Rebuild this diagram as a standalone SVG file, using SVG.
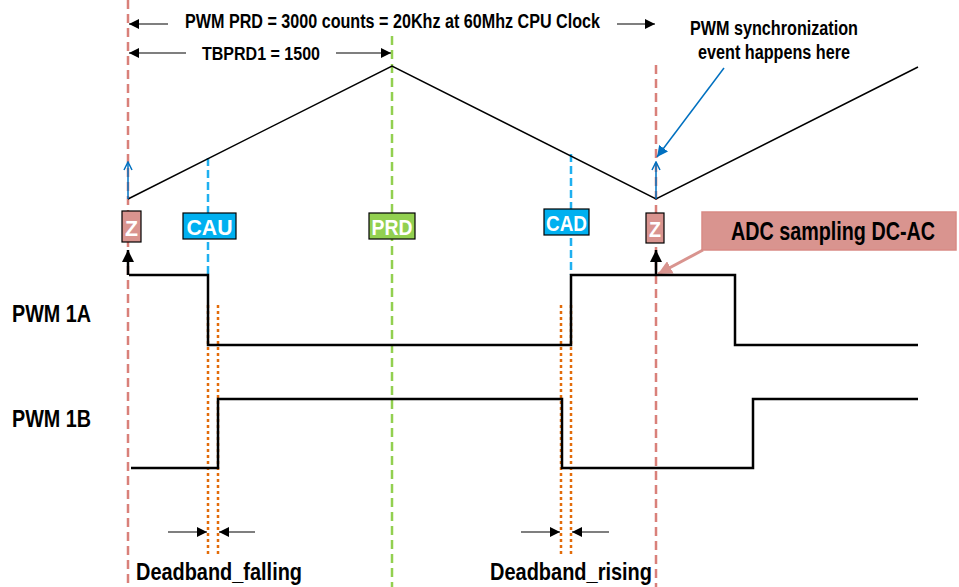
<svg xmlns="http://www.w3.org/2000/svg" width="959" height="587" viewBox="0 0 959 587">
<style>
text{font-family:"Liberation Sans",Arial,sans-serif;font-weight:bold;}
.lbl{fill:#000;}
.wt{fill:#fff;text-anchor:middle;}
.red{stroke:#d9807a;stroke-width:2.5;stroke-dasharray:9,5;fill:none;}
.grn{stroke:#92d050;stroke-width:2.5;stroke-dasharray:9,5;fill:none;}
.blu{stroke:#1fb0f0;stroke-width:2.5;stroke-dasharray:8,4;fill:none;}
.org{stroke:#e36c0a;stroke-width:2.5;stroke-dasharray:3,3;fill:none;}
.wave{stroke:#000;stroke-width:2.5;fill:none;}
.tri{stroke:#000;stroke-width:1.5;fill:none;}
.dim{stroke:#000;stroke-width:1.2;fill:none;}
</style>
<defs>
<marker id="ah" viewBox="0 0 10 10" refX="10" refY="5" markerWidth="10" markerHeight="10" markerUnits="userSpaceOnUse" orient="auto"><path d="M0,0 L10,5 L0,10 Z" fill="#000"/></marker>
<marker id="ahb" viewBox="0 0 10 10" refX="10" refY="5" markerWidth="12" markerHeight="12" markerUnits="userSpaceOnUse" orient="auto"><path d="M0,0 L10,5 L0,10 Z" fill="#000"/></marker>
<marker id="openb" viewBox="0 0 10 10" refX="9" refY="5" markerWidth="10" markerHeight="10" markerUnits="userSpaceOnUse" orient="auto"><path d="M1,1 L9,5 L1,9" fill="none" stroke="#0070c0" stroke-width="1.5"/></marker>
<marker id="fillb" viewBox="0 0 10 10" refX="10" refY="5" markerWidth="11" markerHeight="11" markerUnits="userSpaceOnUse" orient="auto"><path d="M0,0 L10,5 L0,10 Z" fill="#0070c0"/></marker>
<marker id="pink" viewBox="0 0 10 10" refX="10" refY="5" markerWidth="14" markerHeight="14" markerUnits="userSpaceOnUse" orient="auto"><path d="M0,0 L10,5 L0,10 Z" fill="#d9948f"/></marker>
</defs>

<g id="guides">
<line class="red" x1="128" y1="0" x2="128" y2="587"/>
<line class="red" x1="656" y1="65" x2="656" y2="587"/>
<line class="grn" x1="392" y1="36" x2="392" y2="587"/>
<line class="blu" x1="208" y1="158" x2="208" y2="275"/>
<line class="blu" x1="571" y1="154" x2="571" y2="275"/>
<line class="org" x1="208" y1="305" x2="208" y2="557"/>
<line class="org" x1="218" y1="305" x2="218" y2="557"/>
<line class="org" x1="561" y1="305" x2="561" y2="557"/>
<line class="org" x1="571" y1="305" x2="571" y2="557"/>
</g>

<g id="connectors">
<polyline class="tri" points="128,199 392,66 656,199 918,67"/>
<line x1="128" y1="199" x2="128" y2="162" stroke="#0070c0" stroke-width="1.5" marker-end="url(#openb)"/>
<line x1="656" y1="199" x2="656" y2="162" stroke="#0070c0" stroke-width="1.5" marker-end="url(#openb)"/>
<line x1="724" y1="68" x2="657" y2="157" stroke="#0070c0" stroke-width="1.5" marker-end="url(#fillb)"/>
<line x1="128" y1="275" x2="128" y2="250" stroke="#000" stroke-width="2.5" marker-end="url(#ahb)"/>
<line x1="656" y1="275" x2="656" y2="250" stroke="#000" stroke-width="2.5" marker-end="url(#ahb)"/>
<line x1="703" y1="250" x2="658" y2="274" stroke="#d9948f" stroke-width="3" marker-end="url(#pink)"/>
<line class="dim" x1="168" y1="24" x2="129" y2="24" marker-end="url(#ah)"/>
<line class="dim" x1="617" y1="24" x2="655" y2="24" marker-end="url(#ah)"/>
<line class="dim" x1="186" y1="53" x2="129" y2="53" marker-end="url(#ah)"/>
<line class="dim" x1="336" y1="53" x2="391" y2="53" marker-end="url(#ah)"/>
<line class="dim" x1="168" y1="532" x2="207" y2="532" marker-end="url(#ah)"/>
<line class="dim" x1="255" y1="532" x2="219" y2="532" marker-end="url(#ah)"/>
<line class="dim" x1="521" y1="532" x2="560" y2="532" marker-end="url(#ah)"/>
<line class="dim" x1="609" y1="532" x2="572" y2="532" marker-end="url(#ah)"/>
<polyline id="pwm1a" class="wave" points="129,275 208,275 208,345 571,345 571,275 735,275 735,345 918,345"/>
<polyline id="pwm1b" class="wave" points="131,468 218,468 218,399 562,399 562,468 753,468 753,399 918,399"/>
</g>

<g id="z1"><rect x="122" y="211" width="19" height="31" fill="#d9948f" stroke="#000" stroke-width="1.2"/><text class="wt" x="131.5" y="236" font-size="22" textLength="13" lengthAdjust="spacingAndGlyphs">Z</text></g>
<g id="cau"><rect x="183" y="213" width="53" height="26" fill="#00b0f0" stroke="#000" stroke-width="1.2"/><text class="wt" x="209.5" y="235" font-size="22" textLength="46" lengthAdjust="spacingAndGlyphs">CAU</text></g>
<g id="prd"><rect x="369" y="213" width="46" height="26" fill="#92d050" stroke="#000" stroke-width="1.2"/><text class="wt" x="392" y="235" font-size="22" textLength="41" lengthAdjust="spacingAndGlyphs">PRD</text></g>
<g id="cad"><rect x="544" y="209" width="45" height="26" fill="#00b0f0" stroke="#000" stroke-width="1.2"/><text class="wt" x="566.5" y="231" font-size="22" textLength="41" lengthAdjust="spacingAndGlyphs">CAD</text></g>
<g id="z2"><rect x="646" y="213" width="18" height="30" fill="#d9948f" stroke="#000" stroke-width="1.2"/><text class="wt" x="655" y="237" font-size="22" textLength="12" lengthAdjust="spacingAndGlyphs">Z</text></g>
<g id="adc"><rect x="702" y="212" width="254" height="38" fill="#d9948f" stroke="#d98a85" stroke-width="1.5"/><text class="lbl" transform="translate(731,240) scale(0.79,1)" x="0" y="0" font-size="25">ADC sampling DC-AC</text></g>

<g id="labels">
<text class="lbl" x="185" y="28" font-size="20" textLength="415" lengthAdjust="spacingAndGlyphs">PWM PRD = 3000 counts = 20Khz at 60Mhz CPU Clock</text>
<text class="lbl" x="202" y="60" font-size="18" textLength="118" lengthAdjust="spacingAndGlyphs">TBPRD1 = 1500</text>
<text class="lbl" x="690" y="35" font-size="20" textLength="168" lengthAdjust="spacingAndGlyphs">PWM synchronization</text>
<text class="lbl" x="698" y="59" font-size="20" textLength="152" lengthAdjust="spacingAndGlyphs">event happens here</text>
<text class="lbl" x="12" y="322" font-size="24" textLength="79" lengthAdjust="spacingAndGlyphs">PWM 1A</text>
<text class="lbl" x="12" y="427" font-size="24" textLength="79" lengthAdjust="spacingAndGlyphs">PWM 1B</text>
<text class="lbl" x="136" y="580" font-size="24" textLength="166" lengthAdjust="spacingAndGlyphs">Deadband_falling</text>
<text class="lbl" x="490" y="580" font-size="24" textLength="162" lengthAdjust="spacingAndGlyphs">Deadband_rising</text>
</g>
</svg>
